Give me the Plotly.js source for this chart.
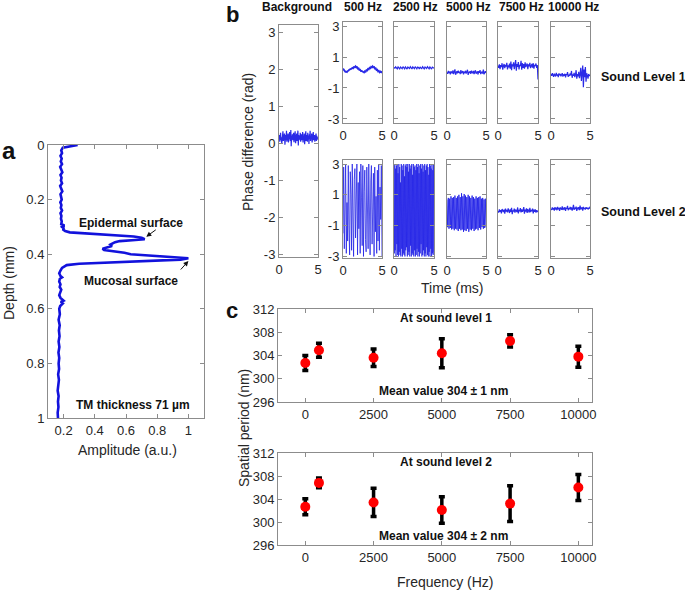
<!DOCTYPE html>
<html>
<head>
<meta charset="utf-8">
<script src="https://cdn.plot.ly/plotly-3.0.1.min.js"></script>
<style>html,body{margin:0;padding:0;background:#fff;}#chart{width:685px;height:591px;}</style>
</head>
<body>
<div id="chart"></div>
<script>
// ---------- Panel a: depth profile ----------
const depthMm = [0,0.005,0.01,0.02,0.03,0.04,0.05,0.06,0.07,0.08,0.09,0.10,0.11,0.12,0.13,0.14,0.15,0.16,0.17,0.18,0.19,0.20,0.21,0.22,0.23,0.24,0.25,0.26,0.27,0.28,0.29,0.295,0.30,0.305,0.31,0.315,0.32,0.325,0.33,0.335,0.34,0.345,0.348,0.352,0.356,0.36,0.365,0.37,0.375,0.38,0.385,0.39,0.395,0.40,0.405,0.41,0.415,0.42,0.425,0.43,0.435,0.44,0.445,0.45,0.46,0.47,0.48,0.485,0.49,0.50,0.51,0.52,0.53,0.54,0.55,0.56,0.565,0.57,0.575,0.58,0.59,0.60,0.62,0.64,0.66,0.68,0.70,0.72,0.74,0.76,0.78,0.80,0.82,0.84,0.86,0.88,0.90,0.92,0.94,0.96,0.98,1.0];
const amplitude = [0.29,0.24,0.195,0.185,0.19,0.18,0.188,0.182,0.19,0.178,0.186,0.192,0.18,0.187,0.183,0.19,0.178,0.186,0.192,0.18,0.185,0.188,0.179,0.186,0.182,0.19,0.18,0.186,0.183,0.188,0.185,0.205,0.19,0.20,0.198,0.21,0.24,0.38,0.55,0.65,0.70,0.72,0.66,0.56,0.53,0.52,0.50,0.51,0.48,0.45,0.46,0.53,0.59,0.63,0.78,0.92,1.0,0.95,0.70,0.45,0.30,0.22,0.20,0.19,0.18,0.172,0.18,0.19,0.176,0.172,0.18,0.175,0.185,0.178,0.172,0.18,0.19,0.20,0.182,0.195,0.178,0.172,0.176,0.168,0.175,0.17,0.174,0.168,0.173,0.167,0.172,0.168,0.171,0.165,0.17,0.166,0.162,0.168,0.164,0.167,0.162,0.164];

// ---------- Panel b: phase difference traces (time 0..5 ms) ----------
const colTitles = ["Background","500 Hz","2500 Hz","5000 Hz","7500 Hz","10000 Hz"];
const timeStart = 0, timeEnd = 5;
const phaseBackground = [0.12,0.22,0.04,0.18,0.28,0.08,0.16,-0.02,0.24,0.12,0.32,0.06,0.20,0.10,0.26,-0.04,0.18,0.22,0.08,0.34,0.04,0.20,0.12,0.26,0.02,0.22,0.10,0.30,0.14,0.06,0.36,-0.08,0.20,0.10,0.24,0.08,0.16,0.28,0.03,0.22,0.12,0.32,0.00,0.20,0.10,0.26,0.06,0.18,0.34,-0.06,0.22,0.08,0.20,0.10,0.28,0.04,0.18,0.24,0.08,0.16,0.30,0.02,0.20,0.12,0.26,-0.03,0.18,0.10,0.32,0.06,0.22,0.14,0.04,0.28,0.10,0.20,-0.02,0.24,0.12,0.34,0.06,0.18,0.10,0.26,0.02,0.20,0.14,0.30,0.08,0.16,0.22,0.04,0.18,0.12,0.26,0.06,0.20,0.10,0.16,0.12];
const phaseL1_500 = [0.25,0.16,0.15,0.04,0.05,0.03,0.10,0.11,0.18,0.19,0.24,0.25,0.30,0.27,0.35,0.34,0.40,0.33,0.35,0.25,0.27,0.17,0.18,0.09,0.10,0.03,0.04,0.00,0.08,0.05,0.15,0.13,0.23,0.21,0.30,0.27,0.36,0.32,0.40,0.34,0.35,0.25,0.27,0.16,0.18,0.07,0.10,0.01,0.06,0.02,0.08];
const phaseL1_2500 = [0.34,0.26,0.37,0.28,0.24,0.36,0.30,0.23,0.35,0.31,0.25,0.38,0.29,0.24,0.36,0.32,0.22,0.35,0.30,0.26,0.37,0.28,0.23,0.36,0.31,0.25,0.38,0.27,0.24,0.35,0.32,0.22,0.36,0.29,0.25,0.37,0.30,0.23,0.35,0.31,0.26,0.38,0.28,0.24,0.36,0.30,0.22,0.35,0.32,0.27];
const phaseL1_5000 = [0.02,-0.08,0.10,-0.04,0.06,-0.12,0.08,0.00,-0.06,0.14,-0.10,0.04,0.20,-0.14,0.02,0.08,-0.06,0.12,-0.02,0.05,-0.10,0.16,-0.04,0.00,0.09,-0.12,0.06,-0.03,0.11,-0.07,0.03,0.18,-0.15,0.04,-0.02,0.08,-0.09,0.12,0.01,-0.05,0.10,-0.11,0.05,0.14,-0.08,0.02,0.07,-0.13,0.09,-0.01,0.15,-0.10,0.04,0.06,-0.07,0.19,-0.12,0.03,0.08,-0.04];
const phaseL1_7500 = [0.45,0.30,0.52,0.22,0.48,0.35,0.60,0.18,0.42,0.55,0.28,0.50,0.38,0.62,0.20,0.46,0.33,0.58,0.25,0.70,0.15,0.52,0.40,0.65,0.22,0.48,0.80,0.12,0.55,0.36,0.68,0.20,0.50,0.42,0.75,0.18,0.60,0.30,0.55,0.25,0.66,0.35,0.48,0.58,0.22,0.52,0.40,0.62,0.28,0.46,0.55,0.32,0.60,0.25,0.50,0.42,0.58,0.30,0.48,-0.45];
const phaseL1_10000 = [-0.10,-0.22,-0.05,-0.18,-0.28,-0.08,-0.15,-0.25,-0.02,-0.20,-0.12,-0.30,-0.06,-0.18,-0.10,-0.24,-0.14,-0.04,-0.26,-0.12,-0.20,-0.08,-0.32,-0.10,-0.16,0.02,-0.28,-0.14,-0.22,-0.06,-0.18,0.10,-0.34,-0.12,-0.20,-0.02,-0.30,-0.16,0.15,-0.40,-0.10,-0.24,0.05,-0.36,-0.12,0.30,-0.55,-0.08,0.45,-0.95,0.20,-0.30,0.35,-0.60,-0.05,-0.20,-0.40,-0.10,-0.22,-0.15];
const phaseL2_500 = [-1.5,2.8,-2.5,1.5,3.0,-2.8,0.5,-2.0,2.9,-1.0,-2.9,2.5,1.0,-2.6,3.0,-0.5,-3.0,2.0,2.7,-1.8,0.0,3.0,-2.9,1.8,-1.2,2.5,-2.8,3.0,0.8,-2.3,2.9,-3.0,1.2,2.6,-1.9,-2.7,2.8,0.3,-2.5,3.0,-0.8,-2.9,1.9,2.9,-2.2,-0.2,2.4,-3.0,2.8,-1.4,0.9,-2.8,2.6,-2.0,3.0,-2.6,1.5,-0.6,2.9,-3.0];
const phaseL2_2500 = [2.9,-2.8,3.0,-2.6,2.7,-3.0,2.9,-2.2,3.0,-2.9,2.4,-3.0,3.0,-2.7,2.8,-2.9,1.8,-3.0,3.0,-2.5,2.9,-3.0,2.6,-2.8,3.0,-2.9,2.2,-3.0,2.9,-2.6,3.0,-2.4,2.8,-3.0,3.0,-2.9,2.5,-2.7,3.0,-3.0,2.7,-2.3,2.9,-3.0,3.0,-2.8,2.3,-2.9,3.0,-3.0,2.8,-2.6,2.9,-3.0,2.6,-2.9,3.0,-2.5,2.8,-3.0,3.0,-2.7,2.4,-3.0,2.9,-2.8,3.0,-2.2,2.7,-3.0,3.0,-2.9,2.5,-2.6,2.9,-3.0,3.0,-2.8,2.6,-3.0,2.9,-2.4,3.0,-2.9,2.8,-3.0,2.3,-2.7,3.0,-3.0,2.9,-2.5,2.7,-3.0,3.0,-2.8,2.6,-2.9,3.0,-2.7];
const phaseL2_5000 = [0.7,-1.1,0.8,-1.2,0.75,-1.15,0.9,-1.25,0.8,-1.2,0.85,-1.3,0.95,-1.2,0.8,-1.25,0.9,-1.35,1.0,-1.2,0.85,-1.3,1.1,-1.25,0.9,-1.4,1.05,-1.3,0.95,-1.35,0.85,-1.2,1.0,-1.4,0.9,-1.25,0.8,-1.3,0.95,-1.2,0.85,-1.35,0.75,-1.25,0.9,-1.2,0.8,-1.3,0.85,-1.15,0.9,-1.25,0.75,-1.1,0.8,-1.2,0.7,-1.15,0.75,-1.1];
const phaseL2_7500 = [-0.05,-0.15,0.05,-0.10,0.00,-0.20,0.08,-0.06,-0.12,0.04,-0.22,0.10,-0.08,0.02,-0.14,0.12,-0.04,-0.18,0.06,-0.10,0.15,-0.25,0.00,-0.08,0.10,-0.16,0.04,-0.02,-0.12,0.18,-0.20,0.02,-0.06,0.14,-0.14,0.06,-0.10,0.00,0.20,-0.22,0.04,-0.08,0.12,-0.18,0.08,-0.04,-0.14,0.16,-0.12,0.02,-0.06,0.10,-0.20,0.04,-0.10,0.06,-0.16,0.00,-0.08,-0.04];
const phaseL2_10000 = [0.10,0.02,0.18,0.05,0.14,-0.02,0.20,0.08,0.12,0.00,0.22,0.06,0.15,-0.04,0.18,0.10,0.04,0.25,0.02,0.12,0.08,0.20,-0.05,0.16,0.10,0.28,0.00,0.14,0.06,0.22,0.04,0.18,-0.02,0.12,0.35,0.02,0.16,0.08,0.24,-0.04,0.14,0.10,0.20,0.00,0.30,0.06,0.12,0.18,-0.02,0.22,0.08,0.14,0.04,0.20,0.10,0.16,0.06,0.12,0.18,0.10];

// ---------- Panel c: spatial period ----------
const freqHz = [0,500,2500,5000,7500,10000];
const freqTicks = [0,2500,5000,7500,10000];
const periodL1 = [302.7,304.9,303.6,304.4,306.5,303.8];
const periodL1Err = [1.3,1.2,1.5,2.5,1.05,1.8];
const periodL2 = [302.65,306.8,303.4,302.1,303.2,306.0];
const periodL2Err = [1.4,0.85,2.45,2.3,3.1,2.25];
const periodTicks = [296,300,304,308,312];

// ---------- Layout helpers ----------
const W = 685, H = 591;
const FONT = "Liberation Sans, Arial, sans-serif";
const gx = (a,b) => [a/W, b/W];
const gy = (t,b) => [1-b/H, 1-t/H];
const base = {showline:true, linecolor:'#8c8c8c', linewidth:1, mirror:'ticks', ticks:'inside', ticklen:4, tickcolor:'#8c8c8c', showgrid:false, zeroline:false, tickfont:{size:13, color:'#262626', family:FONT}, fixedrange:true};
const ax = o => Object.assign({}, base, o);

const layout = {width:W, height:H, margin:{l:0,r:0,t:0,b:0}, paper_bgcolor:'#fff', plot_bgcolor:'#fff', showlegend:false, font:{family:FONT, color:'#262626'}, annotations:[]};
const traces = [];

// Panel a
layout.xaxis = ax({domain:gx(48,204), range:[0.1,1.1], tickvals:[0.2,0.4,0.6,0.8,1], ticktext:['0.2','0.4','0.6','0.8','1'], anchor:'y'});
layout.yaxis = ax({domain:gy(145,418), range:[1,0], tickvals:[0,0.2,0.4,0.6,0.8,1], ticktext:['0','0.2','0.4','0.6','0.8','1'], anchor:'x'});
traces.push({x:amplitude, y:depthMm, xaxis:'x', yaxis:'y', mode:'lines', line:{color:'#1212dc', width:2.6}, hoverinfo:'skip'});

// Panel b
const colX = [[279,318],[343,382],[394,434],[447,486],[498,538],[551,590]];
const rowL1 = [null, phaseL1_500, phaseL1_2500, phaseL1_5000, phaseL1_7500, phaseL1_10000];
const rowL2 = [null, phaseL2_500, phaseL2_2500, phaseL2_5000, phaseL2_7500, phaseL2_10000];
let n = 2;
function addSmall(xr, yr, yRange, yvals, ydata, showY, yticktext, lw, op){
  layout['xaxis'+n] = ax({domain:gx(xr[0],xr[1]), range:[timeStart,timeEnd], tickvals:[0,5], anchor:'y'+n});
  layout['yaxis'+n] = ax({domain:gy(yr[0],yr[1]), range:yRange, tickvals:yvals, ticktext:yticktext, showticklabels:showY, anchor:'x'+n});
  traces.push({y:ydata, x0:timeStart, dx:(timeEnd-timeStart)/(ydata.length-1), xaxis:'x'+n, yaxis:'y'+n, mode:'lines', line:{color:'#1f1fe6', width:lw}, opacity:op, hoverinfo:'skip'});
  n++;
}
addSmall(colX[0], [25,257], [-3.08,3.2], [-3,-2,-1,0,1,2,3], phaseBackground, true, ['-3','-2','-1','0','1','2','3'], 1.2, 0.95);
const l1w = [0,1.8,1.2,1.2,1.2,1.2];
const l2w = [0,1,0.9,1,1.2,1.2];
const l2o = [0,0.75,0.8,0.85,0.95,0.95];
for (let i=1;i<6;i++) addSmall(colX[i], [22,123], [-3.26,3.26], [-3,-1,1,3], rowL1[i], i===1, ['-3','-1','1','3'], l1w[i], 0.95);
for (let i=1;i<6;i++) addSmall(colX[i], [160,258], [-3.1,3.26], [-3,-1,1,3], rowL2[i], i===1, ['-3','-1','1','3'], l2w[i], l2o[i]);

// Panel c
function addPeriod(yr, mean, err){
  layout['xaxis'+n] = ax({domain:gx(278,592), range:[-1000,10500], tickvals:freqTicks, ticktext:freqTicks.map(String), anchor:'y'+n});
  layout['yaxis'+n] = ax({domain:gy(yr[0],yr[1]), range:[296,312], tickvals:periodTicks, ticktext:periodTicks.map(String), anchor:'x'+n});
  traces.push({x:freqHz, y:mean, xaxis:'x'+n, yaxis:'y'+n, mode:'markers', marker:{color:'#ff0000', size:10, line:{width:0}},
    error_y:{type:'data', array:err, visible:true, color:'#000', thickness:3.5, width:3}, hoverinfo:'skip'});
  n++;
}
addPeriod([309,402], periodL1, periodL1Err);
addPeriod([453,545], periodL2, periodL2Err);

// Annotations
function txt(t, px, py, size, bold, opts){
  layout.annotations.push(Object.assign({text: bold ? '<b>'+t+'</b>' : t, xref:'paper', yref:'paper', x:px/W, y:1-py/H, xanchor:'center', yanchor:'middle', showarrow:false, font:{size:size, family:FONT, color:'#111'}}, opts||{}));
}
const tFont = {size:14, family:FONT, color:'#262626'};
txt('a', 9, 150, 24, true);
txt('b', 232, 15, 22, true);
txt('c', 232, 311, 22, true);
txt('Depth (mm)', 9, 283, 14, false, {textangle:-90, font:tFont});
txt('Amplitude (a.u.)', 127, 450, 14, false, {font:tFont});
txt('Epidermal surface', 131, 223, 12, true);
txt('Mucosal surface', 131, 281, 12, true);
txt('TM thickness 71 µm', 133, 405, 12, true);
const colCenters = [297,363,415,468,521,573];
colTitles.forEach((t,i)=>txt(t, colCenters[i], 7, 12, true));
txt('Sound Level 1', 643, 77, 12.5, true);
txt('Sound Level 2', 643, 212, 12.5, true);
txt('Phase difference (rad)', 248, 142, 14, false, {textangle:-90, font:tFont});
txt('Time (ms)', 452, 288, 14, false, {font:tFont});
txt('At sound level 1', 446, 318, 12, true);
txt('Mean value 304 ± 1 nm', 443, 391, 12, true);
txt('At sound level 2', 446, 462, 12, true);
txt('Mean value 304 ± 2 nm', 443, 536, 12, true);
txt('Spatial period (nm)', 244, 428, 14, false, {textangle:-90, font:tFont});
txt('Frequency (Hz)', 445, 582, 14, false, {font:tFont});

// arrows in panel a
layout.annotations.push({xref:'x', yref:'y', x:0.73, y:0.336, ax:11, ay:-8, text:'', showarrow:true, arrowhead:2, arrowsize:1, arrowwidth:1, arrowcolor:'#111', standoff:0});
layout.annotations.push({xref:'x', yref:'y', x:1.0, y:0.425, ax:-9, ay:10, text:'', showarrow:true, arrowhead:2, arrowsize:1, arrowwidth:1, arrowcolor:'#111', standoff:0});

Plotly.newPlot('chart', traces, layout, {staticPlot:true, displayModeBar:false});
</script>
</body>
</html>
